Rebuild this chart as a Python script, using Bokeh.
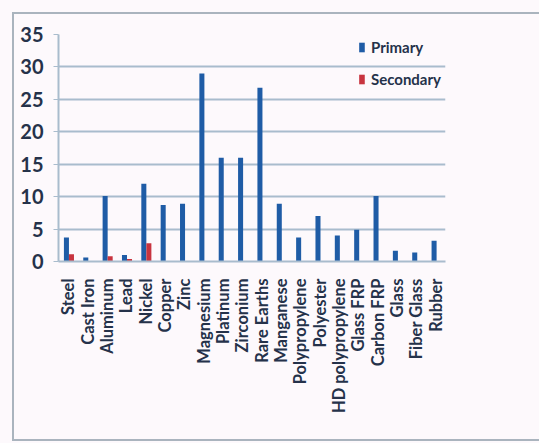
import math
from bokeh.plotting import figure
from bokeh.models import FactorRange, Range1d, FixedTicker, Legend, LegendItem, ColumnDataSource
from bokeh.transform import dodge
from bokeh.embed import file_html
from bokeh.resources import INLINE

categories = ["Steel", "Cast Iron", "Aluminum", "Lead", "Nickel", "Copper", "Zinc",
              "Magnesium", "Platinum", "Zirconium", "Rare Earths", "Manganese",
              "Polypropylene", "Polyester", "HD polypropylene", "Glass FRP",
              "Carbon FRP", "Glass", "Fiber Glass", "Rubber"]
primary = [3.7, 0.6, 10.1, 1.0, 12.0, 8.7, 8.9, 29.0, 16.0, 16.0, 26.8, 8.9,
           3.7, 7.0, 4.0, 4.9, 10.1, 1.65, 1.4, 3.2]
secondary = [1.1, 0.0, 0.8, 0.4, 2.8, 0.0, 0.0, 0.0, 0.0, 0.0, 0.0, 0.0,
             0.0, 0.0, 0.0, 0.0, 0.0, 0.0, 0.0, 0.0]
y_ticks = [0, 5, 10, 15, 20, 25, 30, 35]

BG = "#fdf9fc"
TXT = "#25324a"
GRID = "#a9bccd"
EDGE = "#aab4be"
BLUE = "#1f5ca6"
RED = "#c8343f"
FONT = "Lato"

src = ColumnDataSource(dict(cat=categories, primary=primary, secondary=secondary))

g = f"linear-gradient({EDGE},{EDGE})"
host_bg = (f"{g} 12px 13px / 2px 428px no-repeat, "
           f"{g} 12px 12px / 527px 2px no-repeat, "
           f"{g} 12px 439px / 527px 2px no-repeat, {BG}")

p = figure(width=539, height=443, x_range=FactorRange(*categories, range_padding=0),
           y_range=Range1d(0, 35), output_backend="svg", toolbar_location=None,
           min_border_left=58, min_border_right=94, min_border_top=34, min_border_bottom=182,
           styles={"background": host_bg})
p.background_fill_color = BG
p.border_fill_color = BG
p.border_fill_alpha = 0
p.outline_line_color = None

r1 = p.vbar(x=dodge("cat", -0.09, range=p.x_range), top="primary", width=0.26,
            source=src, fill_color=BLUE, line_color=None)
r2 = p.vbar(x=dodge("cat", 0.17, range=p.x_range), top="secondary", width=0.26,
            source=src, fill_color=RED, line_color=None)

p.yaxis.ticker = FixedTicker(ticks=y_ticks)
p.yaxis.major_label_text_font = FONT
p.yaxis.major_label_text_font_style = "bold"
p.yaxis.major_label_text_font_size = "20px"
p.yaxis.major_label_text_color = TXT
p.yaxis.major_label_standoff = 10
p.yaxis.axis_line_color = GRID
p.yaxis.axis_line_width = 2
p.yaxis.major_tick_line_color = GRID
p.yaxis.major_tick_out = 5
p.yaxis.major_tick_in = 0
p.yaxis.minor_tick_line_color = None

p.xaxis.major_label_orientation = math.pi / 2
p.xaxis.major_label_text_font = FONT
p.xaxis.major_label_text_font_style = "bold"
p.xaxis.major_label_text_font_size = "16.5px"
p.xaxis.major_label_text_color = TXT
p.xaxis.major_label_standoff = 11
p.xaxis.axis_line_color = GRID
p.xaxis.axis_line_width = 2
p.xaxis.major_tick_line_color = None

p.xgrid.grid_line_color = None
p.ygrid.grid_line_color = GRID
p.ygrid.grid_line_width = 2

legend = Legend(items=[LegendItem(label="Primary", renderers=[r1]),
                       LegendItem(label="Secondary", renderers=[r2])],
                location="top_right", border_line_color=None, background_fill_alpha=0,
                label_text_font=FONT, label_text_font_style="bold",
                label_text_font_size="15px", label_text_color=TXT,
                glyph_width=7, glyph_height=12, label_standoff=6, spacing=14,
                margin=4, padding=6)
p.add_layout(legend)

open("out.html", "w").write(file_html(p, INLINE))
